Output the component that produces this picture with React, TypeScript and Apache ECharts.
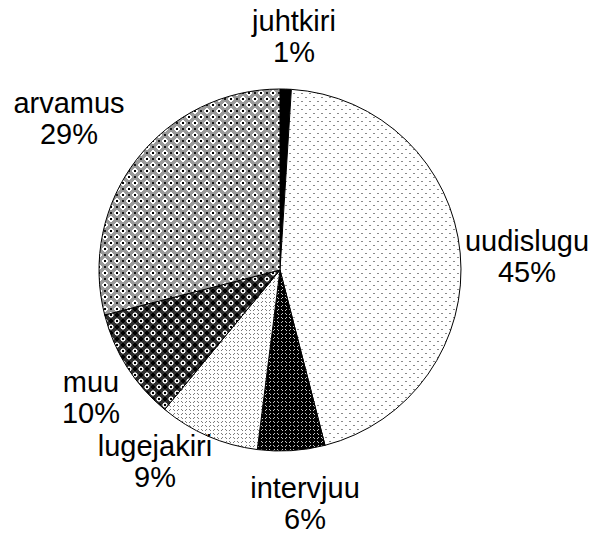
import React, { useEffect, useRef } from "react";
import * as echarts from "echarts";

const categories = ["juhtkiri", "uudislugu", "intervjuu", "lugejakiri", "muu", "arvamus"];
const shares = [1, 45, 6, 9, 10, 29];

// label anchor positions (centre of each two-line label)
const labelAnchors: [number, number][] = [
  [294, 36],
  [527, 256],
  [305, 503],
  [155, 461],
  [91, 397],
  [69, 118],
];

function tile(size: number, pix: (x: number, y: number) => string) {
  const c = document.createElement("canvas");
  c.width = size;
  c.height = size;
  const ctx = c.getContext("2d")!;
  for (let y = 0; y < size; y++) {
    for (let x = 0; x < size; x++) {
      ctx.fillStyle = pix(x, y);
      ctx.fillRect(x, y, 1, 1);
    }
  }
  return { image: c, repeat: "repeat" } as any;
}

function wrapDist(x: number, y: number, cx: number, cy: number, size: number) {
  let dx = Math.abs(x + 0.5 - cx);
  let dy = Math.abs(y + 0.5 - cy);
  dx = Math.min(dx, size - dx);
  dy = Math.min(dy, size - dy);
  return Math.sqrt(dx * dx + dy * dy);
}

function makePatterns() {
  const dotted = tile(8, (x, y) =>
    ((x === 1 || x === 2) && y === 1) || ((x === 5 || x === 6) && y === 5) ? "#8a8a8a" : "#ffffff"
  );
  const ringSet = (x: number, y: number) =>
    (x === 1 && y === 2) || (x === 2 && y === 1) || (x === 5 && y === 1) || (x === 6 && y === 2) ||
    (x === 1 && y === 5) || (x === 2 && y === 6) || (x === 5 && y === 6) || (x === 6 && y === 5);
  const darkDash = tile(8, (x, y) => (ringSet(x, y) ? "#c8c8c8" : "#000000"));
  const lightDash = tile(8, (x, y) => (ringSet(x, y) ? "#7a7a7a" : "#ffffff"));
  const S = 12;
  const circ = (light: boolean) =>
    tile(S, (x, y) => {
      const dc = Math.min(wrapDist(x, y, 3, 3, S), wrapDist(x, y, 9, 9, S));
      const db = Math.min(wrapDist(x, y, 9, 3, S), wrapDist(x, y, 3, 9, S));
      if (dc < 1) return "#000000";
      if (light) {
        if (dc <= 2.7) return "#ffffff";
        if (db < 1.1) return "#1a1a1a";
        return "#9a9a9a";
      }
      if (dc <= 2.2) return "#f4f4f4";
      if (dc <= 2.9) return "#a0a0a0";
      if (db < 1.6) return "#000000";
      return "#2e2e2e";
    });
  return ["#000000", dotted, darkDash, lightDash, circ(false), circ(true)];
}

export default function App() {
  const ref = useRef<HTMLDivElement>(null);
  useEffect(() => {
    if (!ref.current) return;
    const chart = echarts.init(ref.current, undefined, { renderer: "svg" });
    const fills = makePatterns();
    chart.setOption({
      animation: false,
      backgroundColor: "#ffffff",
      series: [
        {
          type: "pie",
          center: [280, 270],
          radius: 181,
          startAngle: 90,
          clockwise: true,
          data: categories.map((name, i) => ({
            name,
            value: shares[i],
            itemStyle: { color: fills[i] },
          })),
          itemStyle: { borderColor: "#000000", borderWidth: 1 },
          label: {
            show: true,
            position: "outside",
            formatter: (p: any) => `${p.name}\n${p.value}%`,
            color: "#000000",
            fontFamily: "Liberation Sans, Arial, sans-serif",
            fontSize: 29,
            lineHeight: 31,
            align: "center",
            overflow: "none",
            width: 200,
          },
          labelLine: { show: false },
          labelLayout: (p: any) => {
            const a = labelAnchors[p.dataIndex];
            return { x: a[0], y: a[1], align: "center", verticalAlign: "middle" };
          },
          emphasis: { disabled: true },
        },
      ],
    });
    return () => chart.dispose();
  }, []);
  return (
    <div
      ref={ref}
      style={{ position: "fixed", left: 0, top: 0, width: 603, height: 533 }}
    />
  );
}
